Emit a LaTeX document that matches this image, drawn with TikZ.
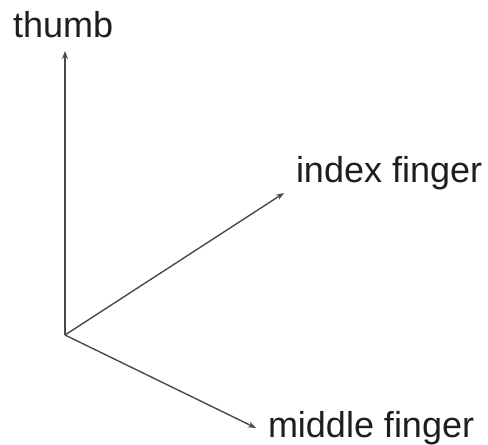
\documentclass[tikz,border=0pt]{standalone}
\usepackage{fontspec}
\setmainfont{Liberation Sans}
\usetikzlibrary{arrows.meta}
\definecolor{axis}{HTML}{4A4A4A}
\definecolor{lbl}{HTML}{1E1E1E}
\begin{document}
\begin{tikzpicture}[x=1pt,y=-1pt,
  axisline/.style={draw=axis,line width=1.4pt,-{Stealth[length=8pt,width=6pt]}},
  label/.style={anchor=base west,inner sep=0pt,outer sep=0pt,text=lbl,font=\fontsize{36}{42}\selectfont}]
\useasboundingbox (0,0) rectangle (488,445);
\coordinate (O) at (65,335);
\coordinate (T) at (65,51);
\coordinate (I) at (284,193);
\coordinate (M) at (256,428);
\draw[axisline] (O) -- (T);
\draw[axisline] (O) -- (I);
\draw[axisline] (O) -- (M);
\node[label] (thumb) at (13,37) {thumb};
\node[label] (index) at (296,182) {index finger};
\node[label] (middle) at (268,437) {middle finger};
\end{tikzpicture}
\end{document}
